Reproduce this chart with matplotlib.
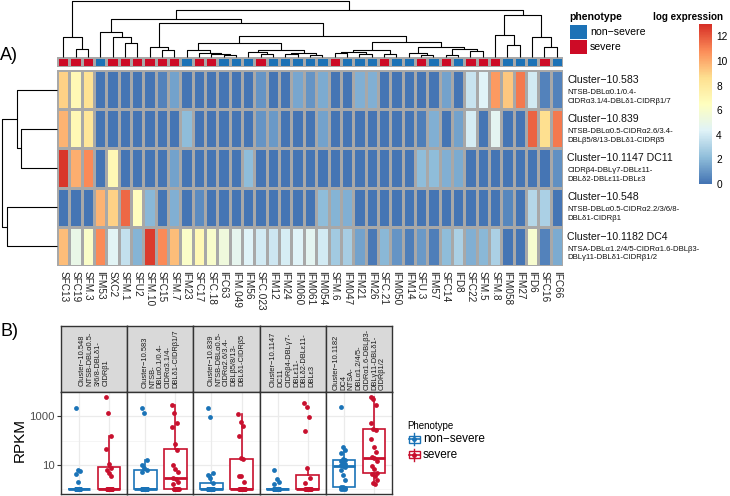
import numpy as np
import matplotlib
matplotlib.use("Agg")
import matplotlib.pyplot as plt
from matplotlib.colors import LinearSegmentedColormap, ListedColormap
from matplotlib.patches import Rectangle

plt.rcParams['font.family'] = ['Liberation Sans', 'DejaVu Sans']

#%% data - heatmap (panel A)
samples = ["SFC13", "SFC19", "SFM.3", "IFM53", "SXC2", "SFM.1", "SFU2", "SFM.10", "SFC15", "SFM.7",
           "IFM23", "SFC17", "SFC.18", "IFC63", "IFM.049", "IFM56", "SFC.023", "IFM12", "IFM24", "IFM060",
           "IFM061", "IFM054", "SFM.6", "IFM047", "IFM21", "IFM26", "SFC.21", "IFM050", "IFM14", "SFU.3",
           "IFM57", "SFC14", "IFD8", "SFC22", "SFM.5", "SFM.8", "IFM058", "IFM27", "IFD6", "SFC16", "IFC66"]
# 1 = severe, 0 = non-severe
phenotype = [1, 1, 1, 0, 1, 1, 1, 1, 1, 1, 0, 1, 1, 0, 0, 0, 1, 0, 0, 0,
             0, 0, 1, 0, 0, 0, 1, 0, 0, 1, 0, 1, 0, 1, 1, 1, 0, 0, 0, 1, 0]

cluster_names = ["Cluster\u221210.583", "Cluster\u221210.839", "Cluster\u221210.1147 DC11",
                 "Cluster\u221210.548", "Cluster\u221210.1182 DC4"]
cluster_domains = ["NTSB-DBL\u03b10.1/0.4-\nCIDR\u03b13.1/4-DBL\u03b41-CIDR\u03b21/7",
                   "NTSB-DBL\u03b10.5-CIDR\u03b12.6/3.4-\nDBL\u03b25/8/13-DBL\u03b41-CIDR\u03b25",
                   "CIDR\u03b24-DBL\u03b37-DBL\u03b511-\nDBL\u03b42-DBL\u03b511-DBL\u03b53",
                   "NTSB-DBL\u03b10.5-CIDR\u03b12.2/3/6/8-\nDBL\u03b41-CIDR\u03b21",
                   "NTSA-DBL\u03b11.2/4/5-CIDR\u03b11.6-DBL\u03b23-\nDBL\u03b311-DBL\u03b41-CIDR\u03b21/2"]

expr_583 = [9.0, 7.0, 8.5, 0, 0, 0, 0, 0, 0.4, 1.3, 0, 0, 0, 0, 0, 0, 1.0, 0, 0, 1.5,
            1.0, 1.6, 0, 0, 1.8, 1.7, 0, 0, 0, 0, 0, 1.3, 0, 3.7, 4.3, 10.5, 9.3, 11.2, 4.0, 0.5, 0.5]
expr_839 = [9.8, 7.0, 8.3, 0, 0, 0, 0, 0, 0, 0, 2.1, 0, 0, 0, 0, 0, 1.0, 1.1, 0, 0,
            0, 1.4, 0, 0, 0, 0, 0, 0, 0, 0.3, 1.7, 0, 1.3, 4.1, 0, 4.6, 0, 0, 11.8, 8.6, 11.2]
expr_1147 = [12.8, 9.9, 10.8, 0, 7.0, 0, 0, 0, 0, 1.3, 0, 0, 0, 0, 0, 2.1, 0, 0, 0, 0,
             0, 0, 0, 0, 0, 0, 0, 0, 0, 2.1, 2.1, 1.7, 1.6, 0, 0, 0, 0, 0, 0, 0, 0.8]
expr_548 = [0, 0, 0, 9.8, 9.0, 11.6, 6.6, 2.0, 0, 1.7, 0, 0.7, 0, 0, 0, 0, 0, 0, 0, 0,
            0, 2.1, 1.9, 1.8, 0, 0, 0, 0, 0, 0, 0, 0, 0, 0, 0, 0, 0.6, 0, 3.2, 2.9, 0]
expr_1182 = [9.5, 5.0, 6.2, 10.8, 4.5, 3.6, 1.9, 12.7, 10.8, 9.5, 6.2, 7.0, 6.0, 5.4, 4.8, 4.3, 3.9, 3.8, 4.1, 4.3,
             4.6, 4.0, 2.6, 2.8, 1.3, 0.2, 2.0, 1.0, 0.3, 1.1, 0.3, 2.1, 2.9, 1.8, 2.0, 2.9, 0, 0, 5.9, 0.5, 1.6]

# row dendrogram (merge list: left id, right id, height)
row_left = [1, 0, 3, 6]
row_right = [2, 5, 4, 7]
row_height = [36, 40, 50, 55.3]

# column dendrogram (merge list, new node id = 41 + merge index)
col_left = [1, 0, 5, 4, 3, 8, 7, 13, 12, 11, 10, 16, 15, 18, 20, 54, 53, 51, 22, 24,
            59, 26, 61, 29, 28, 31, 33, 66, 65, 63, 58, 47, 45, 36, 35, 39, 38, 75, 73, 42]
col_right = [2, 41, 6, 43, 44, 9, 46, 14, 48, 49, 50, 17, 52, 19, 21, 55, 56, 57, 23, 25,
             60, 27, 62, 30, 64, 32, 34, 67, 68, 69, 70, 71, 72, 37, 74, 40, 76, 77, 78, 79]
col_height = [8, 20, 14, 20, 25, 7, 10, 2, 3, 4.5, 7, 3, 5, 3, 2, 4, 7, 14, 4, 3,
              5, 3.5, 7, 2, 4, 2.5, 6, 8, 10, 15, 21, 34, 38, 12, 22, 10, 20, 42, 47, 56.3]

#%% data - boxplots (panel B), RPKM
facet_labels = ["Cluster\u221210.548\nNTSB-DBL\u03b10.5-\n3/6/8-DBL\u03b41-\nCIDR\u03b21",
                "Cluster\u221210.583\nNTSB-\nDBL\u03b10.1/0.4-\nCIDR\u03b13.1/4-\nDBL\u03b41-CIDR\u03b21/7",
                "Cluster\u221210.839\nNTSB-DBL\u03b10.5-\nCIDR\u03b12.6/3.4-\nDBL\u03b25/8/13-\nDBL\u03b41-CIDR\u03b25",
                "Cluster\u221210.1147\nDC11\nCIDR\u03b24-DBL\u03b37-\nDBL\u03b511-\nDBL\u03b42-DBL\u03b511-\nDBL\u03b53",
                "Cluster\u221210.1182\nDC4\nNTSA-\nDBL\u03b11.2/4/5-\nCIDR\u03b11.6-DBL\u03b23-\nDBL\u03b311-DBL\u03b41-\nCIDR\u03b21/2"]

ns_548 = [2100, 6.0, 5.5, 4.3, 2.0] + [1] * 16
sv_548 = [6000, 1300, 160, 45, 11, 7.7, 6.0, 4.8, 3.5] + [1] * 11
ns_583 = [2100, 1300, 16, 10, 7.7, 6.0, 5.0] + [1] * 14
sv_583 = [2900, 1300, 520, 350, 72, 40, 10, 7.0, 5.0, 2.9, 2.75, 2.0, 1.6] + [1] * 7
ns_839 = [2100, 930, 4.8, 3.8, 3.0, 1.8] + [1] * 15
sv_839 = [1200, 580, 400, 150, 20, 17, 3.5, 3.5, 2.0] + [1] * 11
ns_1147 = [6.0, 2.6, 2.0, 1.6] + [1] * 17
sv_1147 = [3600, 2300, 930, 245, 7.7, 3.0, 1.8] + [1] * 13
ns_1182 = [2400, 56, 40, 30, 18, 16, 14, 12, 11, 10, 9, 8, 6, 4, 2.5, 1.3, 1.2, 1.1, 1, 1, 1]
sv_1182 = [6300, 5000, 2900, 500, 310, 280, 117, 52, 35, 21, 19, 14, 9, 6.6, 4.8, 4.2, 3.5, 2.5, 1.8, 1.6]

#%% figure
W, H = 730, 496
fig = plt.figure(figsize=(W / 100, H / 100), dpi=100)


def px_axes(x0, y0, x1, y1):
    return fig.add_axes([x0 / W, 1 - y1 / H, (x1 - x0) / W, (y1 - y0) / H])


def dendro_segments(n, left, right, height):
    pos = {i: i + 0.5 for i in range(n)}
    hgt = {i: 0.0 for i in range(n)}
    segs = []
    for j in range(len(left)):
        a, b, h = left[j], right[j], height[j]
        segs.append(([pos[a], pos[a], pos[b], pos[b]], [hgt[a], h, h, hgt[b]]))
        pos[n + j] = (pos[a] + pos[b]) / 2
        hgt[n + j] = h
    return segs


blue_a, red_a = '#1c72b6', '#cd0b26'
rdylbu = ['#4575B4', '#91BFDB', '#E0F3F8', '#FFFFBF', '#FEE090', '#FC8D59', '#D73027']
cmap = LinearSegmentedColormap.from_list('rdylbu7', rdylbu, N=100)
vmax = 13
grid_col = '#a8a8a8'

mat = np.array([expr_583, expr_839, expr_1147, expr_548, expr_1182])
n_col = len(samples)
n_row = mat.shape[0]

# heatmap
ax_h = px_axes(57, 70, 563, 266)
ax_h.pcolormesh(np.arange(n_col + 1), np.arange(n_row + 1), mat, cmap=cmap, vmin=0, vmax=vmax,
                edgecolors=grid_col, linewidth=0.8)
ax_h.set_xlim(0, n_col)
ax_h.set_ylim(n_row, 0)
ax_h.axis('off')
for k, s in enumerate(samples):
    ax_h.text(k + 0.5, n_row + 0.12, s, rotation=270, ha='center', va='top', fontsize=7.2, color='#222222')
for i in range(n_row):
    ax_h.text(n_col + 0.35, i + 0.25, cluster_names[i], ha='left', va='center', fontsize=7.6, color='#111111')
    ax_h.text(n_col + 0.35, i + 0.68, cluster_domains[i], ha='left', va='center', fontsize=5.6,
              linespacing=1.35, color='#111111')

# phenotype annotation bar
ax_a = px_axes(57, 57, 563, 67)
ax_a.pcolormesh(np.arange(n_col + 1), [0, 1], np.array([phenotype]), cmap=ListedColormap([blue_a, red_a]),
                vmin=0, vmax=1, edgecolors=grid_col, linewidth=0.8)
ax_a.set_xlim(0, n_col)
ax_a.set_ylim(0, 1)
ax_a.axis('off')

# column dendrogram
ax_cd = px_axes(57, 0, 563, 57)
for xs, ys in dendro_segments(n_col, col_left, col_right, col_height):
    ax_cd.plot(xs, ys, color='black', lw=0.8, solid_capstyle='butt', clip_on=False)
ax_cd.set_xlim(0, n_col)
ax_cd.set_ylim(0, 57)
ax_cd.axis('off')

# row dendrogram
ax_rd = px_axes(0, 70, 57, 266)
for xs, ys in dendro_segments(n_row, row_left, row_right, row_height):
    ax_rd.plot(ys, xs, color='black', lw=0.8, solid_capstyle='butt', clip_on=False)
ax_rd.set_xlim(57, 0)
ax_rd.set_ylim(n_row, 0)
ax_rd.axis('off')

# legends of the heatmap
fig.text(569 / W, 1 - 17 / H, 'phenotype', fontsize=7.6, fontweight='bold', va='center', ha='left')
for j, (lab, c) in enumerate([('non\u2212severe', blue_a), ('severe', red_a)]):
    y0 = 25 + j * 14.5
    fig.patches.append(Rectangle((570 / W, 1 - (y0 + 14) / H), 17 / W, 14 / H, transform=fig.transFigure,
                                 facecolor=c, edgecolor='none'))
    fig.text(590 / W, 1 - (y0 + 7) / H, lab, fontsize=7.6, va='center', ha='left')

fig.text(653 / W, 1 - 17 / H, 'log expression', fontsize=7.1, fontweight='bold', va='center', ha='left')
ax_cb = px_axes(699, 24, 712, 184)
grad = np.linspace(0, vmax, 200).reshape(-1, 1)
ax_cb.imshow(grad, cmap=cmap, vmin=0, vmax=vmax, aspect='auto', origin='lower', extent=[0, 1, 0, vmax])
ax_cb.set_ylim(0, vmax)
ax_cb.set_xticks([])
ax_cb.yaxis.tick_right()
ax_cb.set_yticks(range(0, 13, 2))
ax_cb.tick_params(axis='y', length=0, labelsize=7.3, pad=3)
for sp in ax_cb.spines.values():
    sp.set_visible(False)

fig.text(0, 1 - 56 / H, 'A)', fontsize=13, va='center', ha='left')

#%% panel B
blue_b, red_b = '#1a73b7', '#c8102e'
groups = [(ns_548, sv_548), (ns_583, sv_583), (ns_839, sv_839), (ns_1147, sv_1147), (ns_1182, sv_1182)]
all_log = np.log10(np.concatenate([np.array(g, float) for pair in groups for g in pair]))
span = all_log.max() - all_log.min()
ylo, yhi = all_log.min() - 0.05 * span, all_log.max() + 0.05 * span

edges = np.linspace(61, 392, 6)
for p, (ns, sv) in enumerate(groups):
    x0, x1 = edges[p], edges[p + 1]
    ax_s = px_axes(x0, 326, x1, 392)
    ax_s.set_facecolor('#d9d9d9')
    ax_s.set_xticks([])
    ax_s.set_yticks([])
    for sp in ax_s.spines.values():
        sp.set_color('#333333')
        sp.set_linewidth(1.0)
    ax_s.text(0.5, 0.5, facet_labels[p], rotation=90, ha='center', va='center', multialignment='left',
              fontsize=5.4, linespacing=1.15, color='#1a1a1a', transform=ax_s.transAxes)

    ax = px_axes(x0, 392, x1, 494)
    ax.set_xlim(0.4, 2.6)
    ax.set_ylim(ylo, yhi)
    for yv in [0, 2]:
        ax.axhline(yv, color='#f2f2f2', lw=0.5, zorder=0)
    for yv in [1, 3]:
        ax.axhline(yv, color='#ebebeb', lw=0.9, zorder=0)
    for xv in [1, 2]:
        ax.axvline(xv, color='#ebebeb', lw=0.9, zorder=0)
    for pos, vals, c in [(1, ns, blue_b), (2, sv, red_b)]:
        lv = np.log10(np.array(vals, float))
        ax.boxplot([lv], positions=[pos], widths=0.75, showfliers=False, patch_artist=True, whis=1.5,
                   boxprops=dict(facecolor='white', edgecolor=c, linewidth=1.2),
                   medianprops=dict(color=c, linewidth=2.0),
                   whiskerprops=dict(color=c, linewidth=1.2),
                   capprops=dict(linewidth=0), zorder=2)
        n = len(lv)
        jit = ((np.arange(n) * 7) % n / max(n - 1, 1) - 0.5) * 0.22
        ax.scatter(pos + jit, lv, s=12, color=c, zorder=3, linewidths=0)
    ax.set_xticks([])
    for sp in ax.spines.values():
        sp.set_color('#333333')
        sp.set_linewidth(1.0)
    if p == 0:
        ax.set_yticks([1, 3])
        ax.set_yticklabels(['10', '1000'])
        ax.tick_params(axis='y', length=3, color='#333333', labelsize=8.2, labelcolor='#4d4d4d', pad=1.5)
    else:
        ax.set_yticks([])

fig.text(20 / W, 1 - 440 / H, 'RPKM', rotation=90, fontsize=11, va='center', ha='center')
fig.text(0, 1 - 331 / H, 'B)', fontsize=13, va='center', ha='left')

# legend of panel B
ax_l = px_axes(400, 415, 520, 465)
ax_l.set_xlim(400, 520)
ax_l.set_ylim(465, 415)
ax_l.axis('off')
ax_l.text(407, 426, 'Phenotype', fontsize=7, va='center', ha='left')
for j, (lab, c) in enumerate([('non\u2212severe', blue_b), ('severe', red_b)]):
    yc = 439.5 + j * 15.5
    ax_l.plot([414, 414], [yc - 6, yc + 6], color=c, lw=1.0)
    ax_l.add_patch(Rectangle((408.5, yc - 3.5), 11, 7, facecolor='white', edgecolor=c, lw=1.0))
    ax_l.plot([408.5, 419.5], [yc, yc], color=c, lw=1.2)
    ax_l.plot([414], [yc], 'o', color=c, ms=2.5)
    ax_l.text(423, yc, lab, fontsize=8.5, va='center', ha='left')

fig.savefig('out.png', dpi=100)
